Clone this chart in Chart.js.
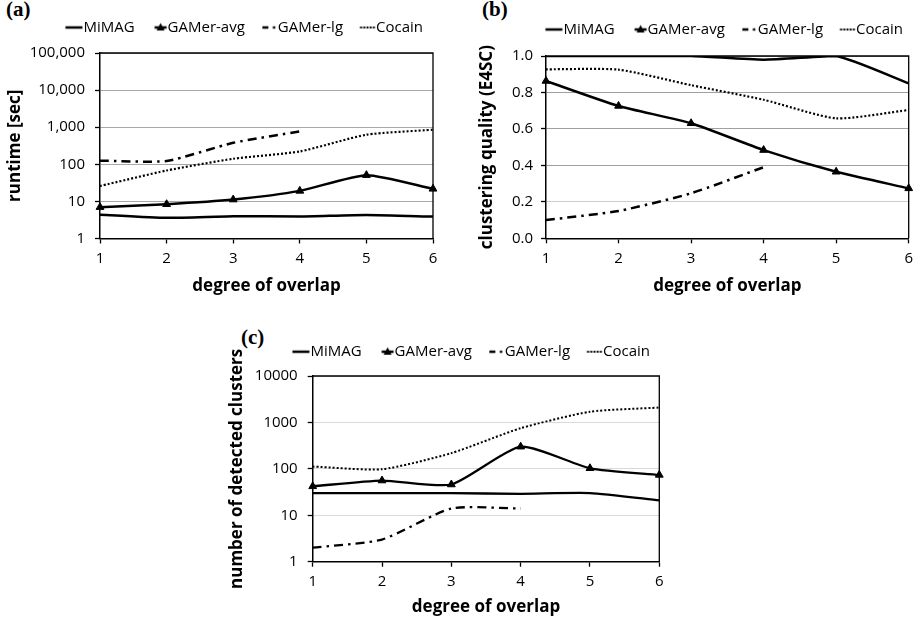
<!DOCTYPE html>
<html>
<head>
<meta charset="utf-8">
<script src="https://cdn.jsdelivr.net/npm/chart.js@4"></script>
<style>
  html, body { margin: 0; padding: 0; background: #fff; width: 916px; height: 621px; overflow: hidden; }
  .box { position: absolute; }
  .tag { position: absolute; font: bold 21px "Liberation Serif", "DejaVu Serif", serif; color: #000; }
</style>
</head>
<body>
<div class="tag" style="left:6px; top:-3px;">(a)</div>
<div class="tag" style="left:482px; top:-3px;">(b)</div>
<div class="tag" style="left:241px; top:325px;">(c)</div>
<div class="box" style="left:0px; top:0px;"><canvas id="chart_a" width="455" height="300"></canvas></div>
<div class="box" style="left:460px; top:0px;"><canvas id="chart_b" width="470" height="300"></canvas></div>
<div class="box" style="left:220px; top:310px;"><canvas id="chart_c" width="460" height="311"></canvas></div>
<script>
// x categories (degree of overlap) and series names
const overlap = ['1', '2', '3', '4', '5', '6'];
const seriesNames = ['MiMAG', 'GAMer-avg', 'GAMer-lg', 'Cocain'];

// (a) runtime [sec]
const runtimeMiMAG = [4.4, 3.6, 4.0, 3.9, 4.3, 3.9];
const runtimeGAMerAvg = [7.0, 8.4, 11.2, 19.2, 51, 21.8];
const runtimeGAMerLg = [125, 123, 380, 770, null, null];
const runtimeCocain = [26, 68, 141, 222, 627, 855];
const runtimeTicks = [1, 10, 100, 1000, 10000, 100000];

// (b) clustering quality (E4SC)
const qualityMiMAG = [1.0, 1.0, 1.0, 0.98, 1.0, 0.85];
const qualityGAMerAvg = [0.863, 0.726, 0.631, 0.484, 0.365, 0.274];
const qualityGAMerLg = [0.10, 0.15, 0.247, 0.39, null, null];
const qualityCocain = [0.927, 0.925, 0.84, 0.76, 0.658, 0.704];

// (c) number of detected clusters
const clustersMiMAG = [30, 30, 30, 29, 30, 21];
const clustersGAMerAvg = [42, 56, 46, 300, 103, 74];
const clustersGAMerLg = [2, 3, 14, 14, null, null];
const clustersCocain = [112, 98, 218, 750, 1700, 2090];
const clustersTicks = [1, 10, 100, 1000, 10000];

const FONT = '"Open Sans", "Noto Sans", sans-serif';

// small legend keys, drawn into a canvas used as the legend point style
function legendKey(kind) {
  const c = document.createElement('canvas');
  c.width = 40; c.height = 16;
  const g = c.getContext('2d');
  g.strokeStyle = '#000'; g.fillStyle = '#000'; g.lineWidth = 2.5;
  const y = 8;
  if (kind === 0) {
    g.beginPath(); g.moveTo(15.5, y); g.lineTo(32.5, y); g.stroke();
  } else if (kind === 1) {
    g.beginPath(); g.moveTo(20.5, y); g.lineTo(32.5, y); g.stroke();
    g.beginPath(); g.moveTo(26.5, y - 4.5); g.lineTo(30.5, y + 3); g.lineTo(22.5, y + 3); g.closePath(); g.fill();
  } else if (kind === 2) {
    g.beginPath(); g.moveTo(18, y); g.lineTo(24, y); g.stroke();
    g.fillRect(28.5, y - 1.2, 2.4, 2.4);
  } else {
    for (let x = 17.5; x < 32; x += 3.2) g.fillRect(x, y - 1, 2, 2);
  }
  return c;
}
const keys = [0, 1, 2, 3].map(legendKey);

const frame = {
  id: 'frame',
  beforeDatasetsDraw(chart) {
    const a = chart.chartArea, ctx = chart.ctx;
    ctx.save();
    ctx.strokeStyle = '#000';
    ctx.lineWidth = 1.3;
    ctx.beginPath();
    ctx.moveTo(a.left, a.top);
    ctx.lineTo(a.right, a.top);
    ctx.lineTo(a.right, a.bottom);
    ctx.stroke();
    ctx.restore();
  }
};

function makeDatasets(vals, lw) {
  const common = { borderColor: '#000', pointRadius: 0, tension: 0.2 };
  return [
    Object.assign({ label: seriesNames[0], data: vals[0], borderWidth: lw }, common),
    Object.assign({}, common, { label: seriesNames[1], data: vals[1], backgroundColor: '#000', borderWidth: lw,
      pointStyle: 'triangle', pointRadius: 4.5, pointBorderWidth: 1 }),
    Object.assign({ label: seriesNames[2], data: vals[2], borderWidth: lw, borderDash: [9, 5, 2.5, 5] }, common),
    Object.assign({ label: seriesNames[3], data: vals[3], borderWidth: lw - 0.3, borderDash: [2, 2] }, common)
  ];
}

// lay: canvas size + where the plot area should sit (canvas-local px)
// legEnd = right end of legend text, legY = centre line of legend text
const renderChart = (chart_name, vals, yOpts, yTitle, lay, gridColor, lw) => {
  const ctx = document.getElementById(chart_name).getContext('2d');
  const legPad = 13.5;
  const legendHeight = {
    id: 'legendHeight',
    beforeLayout(chart) {
      const lg = chart.legend;
      if (lg && !lg._patched) {
        const fit = lg.fit;
        lg.fit = function () { fit.call(this); this.height = lay.t - lay.legY + legPad + 7.5; };
        lg._patched = true;
      }
    }
  };
  return new Chart(ctx, {
    type: 'line',
    data: { labels: overlap, datasets: makeDatasets(vals, lw) },
    plugins: [frame, legendHeight],
    options: {
      responsive: false,
      animation: false,
      events: [],
      layout: { padding: { left: 0, right: lay.w - (lay.legEnd + legPad), top: 0, bottom: 0 } },
      plugins: {
        tooltip: { enabled: false },
        legend: {
          position: 'top',
          align: 'end',
          labels: {
            usePointStyle: true,
            pointStyleWidth: 12,
            padding: legPad,
            color: '#000',
            font: { family: FONT, size: 15 },
            generateLabels: (chart) => {
              const items = Chart.defaults.plugins.legend.labels.generateLabels(chart);
              items.forEach((it, i) => { it.pointStyle = keys[i]; });
              return items;
            }
          }
        }
      },
      scales: {
        x: {
          type: 'category',
          offset: false,
          grid: { offset: false, drawOnChartArea: false, drawTicks: true, tickLength: 5, tickColor: '#000', tickWidth: 1.3 },
          border: { color: '#000', width: 1.5 },
          ticks: { color: '#000', padding: 6, font: { family: FONT, size: 15 }, maxRotation: 0 },
          title: { display: true, text: 'degree of overlap', color: '#000', font: { family: FONT, size: 17, weight: 'bold' },
                   padding: { top: 0, bottom: 3.5 } },
          afterFit: (s) => { s.height = lay.h - lay.b; }
        },
        y: Object.assign({
          grid: { color: gridColor, lineWidth: 1, tickLength: 5, tickColor: '#000', tickWidth: 1.3 },
          border: { color: '#000', width: 1.5 },
          title: { display: true, text: yTitle, color: '#000', font: { family: FONT, size: 17, weight: 'bold' },
                   padding: { top: lay.titleX - 10.2, bottom: 0 } },
          afterFit: (s) => { s.width = lay.l; s.paddingTop = lay.t; s.paddingRight = lay.w - lay.r; }
        }, yOpts)
      }
    }
  });
};

renderChart('chart_a',
  [runtimeMiMAG, runtimeGAMerAvg, runtimeGAMerLg, runtimeCocain],
  {
    type: 'logarithmic', min: 1, max: 100000,
    afterBuildTicks: (s) => { s.ticks = runtimeTicks.map(v => ({ value: v })); },
    ticks: { color: '#000', padding: 10, font: { family: FONT, size: 15 },
             callback: (v) => v.toLocaleString('en-US') }
  },
  'runtime [sec]',
  { w: 455, h: 300, l: 100, t: 53, r: 433, b: 238.5, titleX: 15.5, legEnd: 423, legY: 27.5 },
  '#a8a8a8', 2.5);

renderChart('chart_b',
  [qualityMiMAG, qualityGAMerAvg, qualityGAMerLg, qualityCocain],
  {
    type: 'linear', min: 0, max: 1,
    grid: { color: (c) => (Math.abs(c.tick.value - 0.2) < 1e-6 ? '#cdcdcd' : '#a0a0a0'), lineWidth: 1,
            tickLength: 5, tickColor: '#000', tickWidth: 1.3 },
    ticks: { color: '#000', padding: 8, stepSize: 0.2, font: { family: FONT, size: 15 },
             callback: (v) => v.toFixed(1) }
  },
  'clustering quality (E4SC)',
  { w: 470, h: 300, l: 86, t: 56, r: 448.7, b: 238.3, titleX: 27.5, legEnd: 443, legY: 29.5 },
  '#a0a0a0', 2.5);

renderChart('chart_c',
  [clustersMiMAG, clustersGAMerAvg, clustersGAMerLg, clustersCocain],
  {
    type: 'logarithmic', min: 1, max: 10000,
    afterBuildTicks: (s) => { s.ticks = clustersTicks.map(v => ({ value: v })); },
    ticks: { color: '#000', padding: 10, font: { family: FONT, size: 15 },
             callback: (v) => String(v) }
  },
  'number of detected clusters',
  { w: 460, h: 311, l: 92.7, t: 66, r: 439.3, b: 251.7, titleX: 17.5, legEnd: 430, legY: 41.7 },
  '#d9d9d9', 2.3);
</script>
</body>
</html>
